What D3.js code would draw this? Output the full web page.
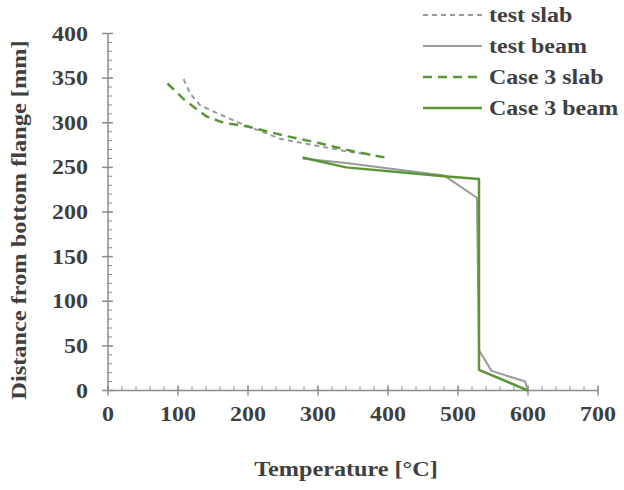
<!DOCTYPE html>
<html>
<head>
<meta charset="utf-8">
<script src="https://cdn.jsdelivr.net/npm/d3@7"></script>
<style>
  body { margin: 0; background: #fff; }
  text { font-family: "Liberation Serif", "Times New Roman", serif; font-weight: bold; fill: #3f3f3f; }
</style>
</head>
<body>
<svg id="chart" width="624" height="490"></svg>
<script>
// values: [temperature °C, distance mm]
const testSlab = [[108, 349], [117, 333], [131, 320], [155, 311], [184, 301], [246, 282], [293, 275], [341, 268], [375, 264]];
const testBeam = [[278, 260], [340, 255], [480, 241], [527, 216], [530, 45], [548, 22], [596, 10], [600, 0]];
const caseSlab = [[85, 344], [110, 325], [141, 307], [165, 300], [198, 296], [255, 285], [303, 277], [350, 268], [403, 260]];
const caseBeam = [[278, 261], [340, 250], [480, 240], [530, 237], [530, 23], [600, 0]];

const xTicks = [0, 100, 200, 300, 400, 500, 600, 700];
const yTicks = [0, 50, 100, 150, 200, 250, 300, 350, 400];

const series = [
  { name: "test slab", data: testSlab, color: "#9a9a9a", width: 2, dash: "5,4" },
  { name: "test beam", data: testBeam, color: "#9a9a9a", width: 2, dash: null },
  { name: "Case 3 slab", data: caseSlab, color: "#5a9636", width: 2.5, dash: "9,6" },
  { name: "Case 3 beam", data: caseBeam, color: "#5a9636", width: 2.5, dash: null }
];

const svg = d3.select("#chart");
const x = d3.scaleLinear([0, 700], [108, 598]);
const y = d3.scaleLinear([0, 400], [390.5, 33.5]);
const axisColor = "#8c8c8c";
const stretch = 1.2; // the picture's text is a bit wide

// x axis
const gx = svg.append("g");
gx.append("line").attr("x1", x(0)).attr("x2", x(700)).attr("y1", y(0)).attr("y2", y(0))
  .attr("stroke", axisColor).attr("stroke-width", 1.5);
gx.selectAll(".minor").data(d3.range(0, 701, 20)).join("line")
  .attr("x1", d => x(d)).attr("x2", d => x(d))
  .attr("y1", y(0)).attr("y2", y(0) - 4)
  .attr("stroke", axisColor).attr("stroke-width", 1);
gx.selectAll(".major").data(xTicks).join("line")
  .attr("x1", d => x(d)).attr("x2", d => x(d))
  .attr("y1", y(0) - 5).attr("y2", y(0) + 5)
  .attr("stroke", axisColor).attr("stroke-width", 1.5);
gx.selectAll("text").data(xTicks).join("text")
  .attr("transform", d => `translate(${x(d)},${y(0) + 30}) scale(${stretch},1)`)
  .attr("text-anchor", "middle").attr("font-size", 20)
  .text(d => d);

// y axis
const gy = svg.append("g");
gy.append("line").attr("x1", x(0)).attr("x2", x(0)).attr("y1", y(0)).attr("y2", y(400))
  .attr("stroke", axisColor).attr("stroke-width", 1.5);
gy.selectAll(".minor").data(d3.range(0, 401, 10)).join("line")
  .attr("x1", x(0)).attr("x2", x(0) + 4)
  .attr("y1", d => y(d)).attr("y2", d => y(d))
  .attr("stroke", axisColor).attr("stroke-width", 1);
gy.selectAll(".major").data(yTicks).join("line")
  .attr("x1", x(0) - 6).attr("x2", x(0) + 5)
  .attr("y1", d => y(d)).attr("y2", d => y(d))
  .attr("stroke", axisColor).attr("stroke-width", 1.5);
gy.selectAll("text").data(yTicks).join("text")
  .attr("transform", d => `translate(88,${y(d)}) scale(${stretch},1)`)
  .attr("dy", "0.35em")
  .attr("text-anchor", "end").attr("font-size", 20)
  .text(d => d);

// axis titles
svg.append("text").attr("transform", "translate(346,476) scale(1.1,1)").attr("text-anchor", "middle")
  .attr("font-size", 22).text("Temperature [°C]");
svg.append("text").attr("transform", "translate(26,220) rotate(-90) scale(1.16,1)").attr("text-anchor", "middle")
  .attr("font-size", 21).text("Distance from bottom flange [mm]");

// lines
const line = d3.line().x(d => x(d[0])).y(d => y(d[1]));
svg.append("g").selectAll("path").data(series).join("path")
  .attr("d", d => line(d.data))
  .attr("fill", "none")
  .attr("stroke", d => d.color)
  .attr("stroke-width", d => d.width)
  .attr("stroke-dasharray", d => d.dash)
  .attr("stroke-linejoin", "round");

// legend
const lg = svg.append("g").selectAll("g").data(series).join("g")
  .attr("transform", (d, i) => `translate(423,${15 + i * 31})`);
lg.append("line").attr("x1", 0).attr("x2", 59).attr("y1", 0).attr("y2", 0)
  .attr("stroke", d => d.color).attr("stroke-width", d => d.width)
  .attr("stroke-dasharray", d => d.dash);
lg.append("text").attr("transform", `translate(66,0) scale(${stretch},1)`)
  .attr("dy", "0.35em").attr("font-size", 20)
  .text(d => d.name);
</script>
</body>
</html>
